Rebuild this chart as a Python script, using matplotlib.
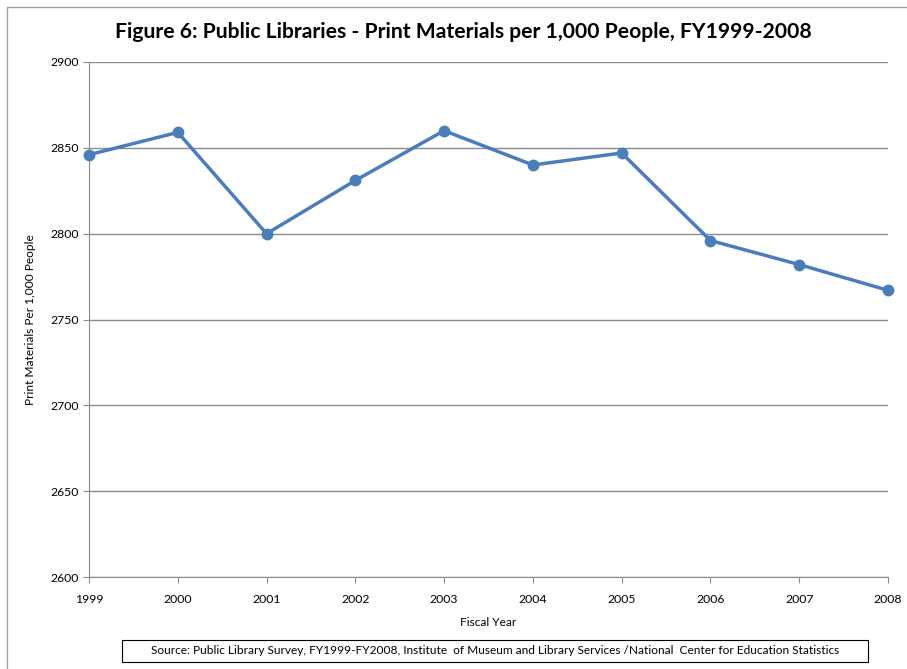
import matplotlib.pyplot as plt
from matplotlib.patches import Rectangle

plt.rcParams['font.family'] = ['Lato', 'DejaVu Sans']

years = [1999, 2000, 2001, 2002, 2003, 2004, 2005, 2006, 2007, 2008]
materials = [2846, 2859, 2800, 2831, 2860, 2840, 2847, 2796, 2782, 2767]
yticks = [2600, 2650, 2700, 2750, 2800, 2850, 2900]

W, H = 907, 669
fig = plt.figure(figsize=(W / 100, H / 100), dpi=100)

# outer chart border (only top/left visible in the original)
fig.patches.append(Rectangle((7 / W, -0.1), 1.2, 1 - 7 / H + 0.1, transform=fig.transFigure,
                             fill=False, edgecolor='#a0a0a0', linewidth=1))

ax = fig.add_axes([89 / W, 1 - 577 / H, (888 - 89) / W, (577 - 62) / H])
ax.plot(years, materials, color='#4a7ebb', linewidth=2.5, marker='o', markersize=7.5,
        clip_on=False, zorder=3)

ax.set_xlim(1999, 2008)
ax.set_ylim(2600, 2900)
ax.set_xticks(years)
ax.set_yticks(yticks)
ax.grid(axis='y', color='#8c8c8c', linewidth=1)
ax.set_axisbelow(True)
for s in ['top', 'right']:
    ax.spines[s].set_visible(False)
for s in ['left', 'bottom']:
    ax.spines[s].set_color('#8c8c8c')
ax.tick_params(colors='#8c8c8c', labelcolor='black', labelsize=8.8, length=4)
ax.tick_params(axis='x', pad=8)

ax.set_xlabel('Fiscal Year', fontsize=8.6, labelpad=9)
ax.set_ylabel('Print Materials Per 1,000 People', fontsize=8.6, labelpad=10)

fig.text(463 / W, 1 - 32 / H, 'Figure 6: Public Libraries - Print Materials per 1,000 People, FY1999-2008',
         ha='center', va='center', fontsize=15.2, fontweight='bold')

fig.text(495 / W, 1 - 651 / H,
         'Source: Public Library Survey, FY1999-FY2008, Institute  of Museum and Library Services /National  Center for Education Statistics',
         ha='center', va='center', fontsize=8.6)
fig.patches.append(Rectangle((122 / W, 1 - 662 / H), (868 - 122) / W, 22 / H, transform=fig.transFigure,
                             fill=False, edgecolor='black', linewidth=0.8))

fig.savefig('out.png', dpi=100)
